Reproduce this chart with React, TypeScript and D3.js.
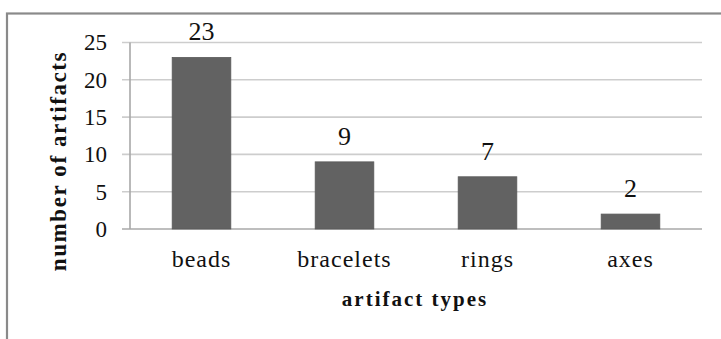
import React from "react";
import * as d3 from "d3";

const categories = ["beads", "bracelets", "rings", "axes"];
const counts = [23, 9, 7, 2];
const yTicks = [0, 5, 10, 15, 20, 25];

const W = 721;
const H = 339;
const FONT = "'Liberation Serif', 'Times New Roman', serif";

export default function App() {
  const x = d3.scaleBand<string>().domain(categories).range([130, 702]).padding(0);
  const y = d3.scaleLinear().domain([0, 25]).range([229, 42.5]);
  const barW = x.bandwidth() * 0.41;

  return (
    <svg
      width={W}
      height={H}
      style={{ position: "absolute", left: 0, top: 0, background: "#fff" }}
    >
      {/* chart frame */}
      <rect x={7} y={13.5} width={W + 20} height={H + 20} fill="#fff" stroke="#8a8a8a" strokeWidth={2.2} />

      {/* gridlines with tick stubs */}
      {yTicks.map((t) => (
        <line
          key={`g${t}`}
          x1={122}
          x2={702}
          y1={y(t)}
          y2={y(t)}
          stroke={t === 0 ? "#a8a8a8" : "#cdcdcd"}
          strokeWidth={1.6}
        />
      ))}
      {/* y axis */}
      <line x1={130} x2={130} y1={y(25)} y2={y(0)} stroke="#a8a8a8" strokeWidth={1.6} />

      {/* tick labels */}
      {yTicks.map((t) => (
        <text
          key={`t${t}`}
          x={107}
          y={y(t) + 7.8}
          textAnchor="end"
          fontFamily={FONT}
          fontSize={23}
          fill="#111"
        >
          {t}
        </text>
      ))}

      {/* bars and value labels */}
      {categories.map((c, i) => {
        const cx = (x(c) as number) + x.bandwidth() / 2;
        return (
          <g key={c}>
            <rect
              x={cx - barW / 2}
              y={y(counts[i])}
              width={barW}
              height={y(0) - y(counts[i])}
              fill="#626262"
              stroke="#5a5a5a"
              strokeWidth={0.8}
            />
            <text
              x={cx}
              y={y(counts[i]) - 17}
              textAnchor="middle"
              fontFamily={FONT}
              fontSize={26}
              fill="#111"
            >
              {counts[i]}
            </text>
            <text
              x={cx}
              y={267}
              textAnchor="middle"
              fontFamily={FONT}
              fontSize={24}
              letterSpacing={1}
              fill="#111"
            >
              {c}
            </text>
          </g>
        );
      })}

      {/* axis titles */}
      <text
        x={415}
        y={306}
        textAnchor="middle"
        fontFamily={FONT}
        fontSize={21}
        fontWeight="bold"
        letterSpacing={2}
        fill="#111"
      >
        artifact types
      </text>
      <text
        transform="translate(66,161) rotate(-90)"
        textAnchor="middle"
        fontFamily={FONT}
        fontSize={23}
        fontWeight="bold"
        letterSpacing={1.6}
        fill="#111"
      >
        number of artifacts
      </text>
    </svg>
  );
}
